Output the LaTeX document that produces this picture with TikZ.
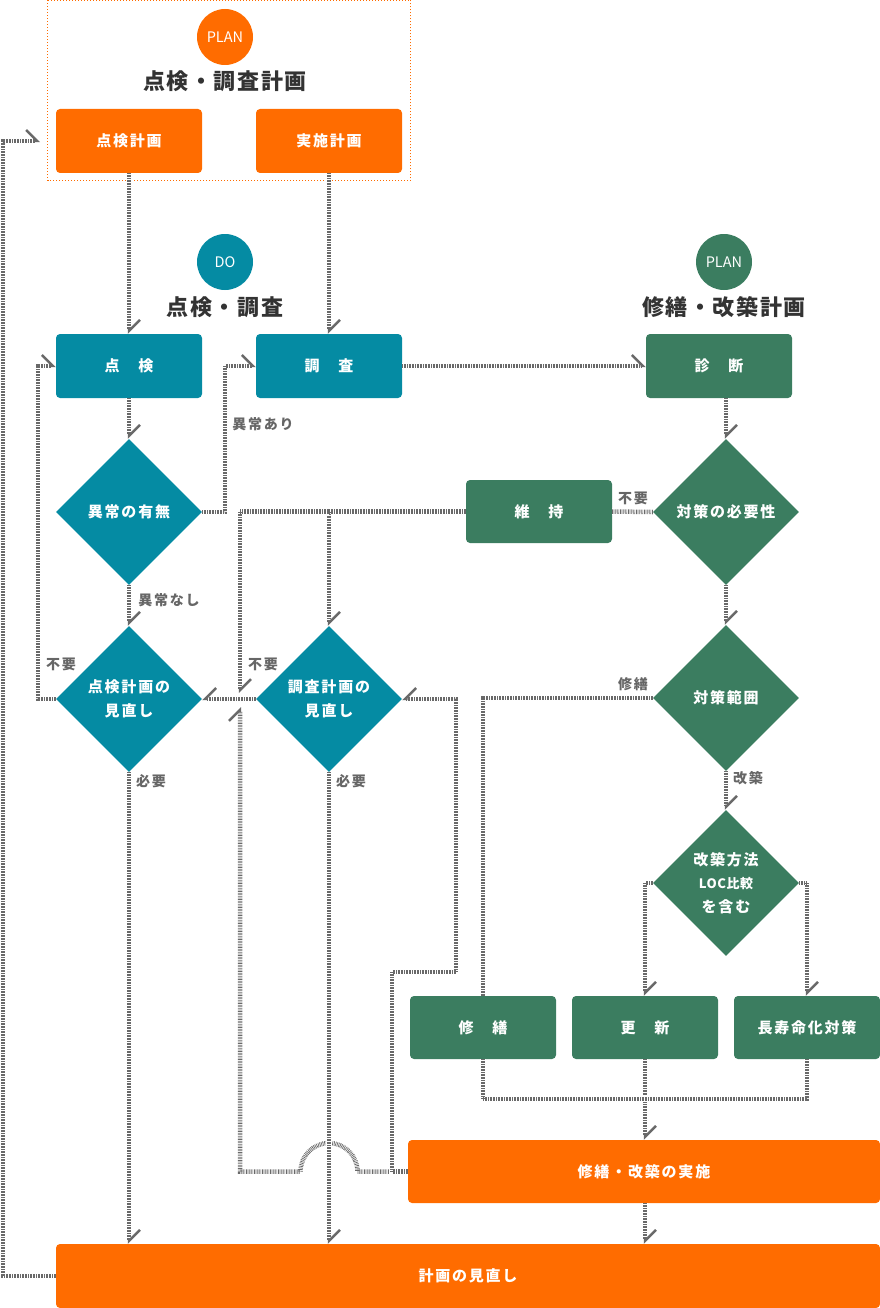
\documentclass[tikz,border=0pt]{standalone}
\usepackage{fontspec}
\setmainfont{Noto Sans CJK JP}
\newfontfamily\jp{Noto Sans CJK JP}[LetterSpace=12]
\newfontfamily\jph{Noto Sans CJK JP}[LetterSpace=7]
\newfontfamily\jpn{Noto Sans CJK JP}[LetterSpace=4]
\usepackage{tikz}
\usetikzlibrary{arrows.meta,shapes.geometric,calc}
\definecolor{orangeplan}{RGB}{255,108,0}
\definecolor{tealdo}{RGB}{5,139,163}
\definecolor{greenplan}{RGB}{59,125,96}
\definecolor{headgray}{RGB}{51,51,51}
\definecolor{taggray}{RGB}{102,102,102}
\definecolor{hatch}{RGB}{105,105,105}
\tikzstyle{box}     =[rectangle, rounded corners=4pt, minimum width=146pt,
                      minimum height=64pt, inner sep=0pt, text=white,
                      font=\jp\bfseries\fontsize{15}{18}\selectfont]
\tikzstyle{decision}=[diamond, aspect=1, minimum width=146pt,
                      minimum height=146pt, inner sep=0pt, text=white,
                      align=center, font=\jp\bfseries\fontsize{15}{24}\selectfont]
\tikzstyle{badge}   =[circle, minimum size=56pt, inner sep=0pt, text=white,
                      font=\fontsize{14.5}{16}\selectfont]
\tikzstyle{heading} =[text=headgray, inner sep=0pt,
                      font=\jph\bfseries\fontsize{22}{26}\selectfont]
\tikzstyle{tag}     =[text=taggray, inner sep=0pt,
                      font=\jp\bfseries\fontsize{14}{16}\selectfont]
\tikzstyle{link}    =[draw=hatch, line width=4.5pt, dash pattern=on 0.7pt off 0.9pt,
                      preaction={draw=white, line width=6.5pt, solid}]
\tikzstyle{dn}      =[-{Straight Barb[harpoon, length=11pt, width=22pt, line width=2.4pt]}]
\tikzstyle{lt}      =[-{Straight Barb[harpoon, swap, length=11pt, width=22pt, line width=2.4pt]}]

\begin{document}
\begin{tikzpicture}[x=1pt,y=-1pt]
    \useasboundingbox (0,0) rectangle (880,1308);

    % PLAN: inspection and survey planning
    \draw [orangeplan, line width=1pt, dash pattern=on 1pt off 2pt] (47.5,0.5) rectangle (410.5,181);
    \node (p1) [badge, fill=orangeplan] at (225,37) {PLAN};
    \node (t1) [heading] at (225,81) {点検・調査計画};
    \node (a1) [box, fill=orangeplan] at (129,141) {点検計画};
    \node (a2) [box, fill=orangeplan] at (329,141) {実施計画};

    % DO: inspection and survey
    \node (p2) [badge, fill=tealdo] at (225,262) {DO};
    \node (t2) [heading] at (225,307) {点検・調査};
    \node (b1) [box, fill=tealdo] at (129,366) {点　検};
    \node (b2) [box, fill=tealdo] at (329,366) {調　査};
    \node (d1) [decision, fill=tealdo] at (129,512) {異常の有無};
    \node (d2) [decision, fill=tealdo] at (129,699) {点検計画の\\見直し};
    \node (d3) [decision, fill=tealdo] at (329,699) {調査計画の\\見直し};

    % PLAN: repair and renewal planning
    \node (p3) [badge, fill=greenplan] at (724,262) {PLAN};
    \node (t3) [heading] at (724,307) {修繕・改築計画};
    \node (c1) [box, fill=greenplan] at (719,366) {診　断};
    \node (c2) [box, fill=greenplan, minimum height=63pt] at (539,511.5) {維　持};
    \node (d4) [decision, fill=greenplan] at (726,512) {対策の必要性};
    \node (d5) [decision, fill=greenplan] at (726,698) {対策範囲};
    \node (d6) [decision, fill=greenplan] at (726,883)
        {\fontsize{15}{21}\selectfont 改築方法\\[-1pt]
         \jpn\fontsize{13}{18}\selectfont LOC比較\\を含む};
    \node (e1) [box, fill=greenplan, minimum height=63pt] at (483,1027.5) {修　繕};
    \node (e2) [box, fill=greenplan, minimum height=63pt] at (645,1027.5) {更　新};
    \node (e3) [box, fill=greenplan, minimum height=63pt] at (807,1027.5) {長寿命化対策};
    \node (f1) [box, fill=orangeplan, minimum width=472pt, minimum height=63pt] at (644,1171.5) {修繕・改築の実施};
    \node (f2) [box, fill=orangeplan, minimum width=824pt] at (468,1276) {計画の見直し};

    % branch labels
    \node (l1) [tag] at (263,424) {異常あり};
    \node (l2) [tag] at (169,600) {異常なし};
    \node (l3) [tag] at (61,664) {不要};
    \node (l4) [tag] at (263,664) {不要};
    \node (l5) [tag] at (151,781) {必要};
    \node (l6) [tag] at (351,781) {必要};
    \node (l7) [tag] at (633,498) {不要};
    \node (l8) [tag] at (633,684) {修繕};
    \node (l9) [tag] at (748,778) {改築};

    \coordinate (k1) at (225,512);
    \coordinate (k2) at (38,699);
    \coordinate (k4) at (240,693);
    \coordinate (k5) at (240,707);
    \coordinate (k6) at (392,972);
    \coordinate (k7) at (456,972);
    \coordinate (k8) at (3,1276);
    \coordinate (k9) at (40,141);
    \coordinate (h1) at ($(d3.south)+(28.5,0)$);
    \coordinate (n1) at (807,1099);

    % loop back over the crossing
    \draw [link,dn] (f1.west -| k6) -- (f1.west -| h1)
        arc[start angle=0, end angle=-180, radius=28.5] -| (k5);

    \foreach \i/\j in {a1/b1,a2/b2,b1/d1,d1/d2,d4/d5,d5/d6}
    \draw [link,dn] (\i.south) -- (\j.north);
    \draw [link,dn] (c1.south -| d4.north) -- (d4.north);
    \draw [link,dn] (d2.south) -- (d2.south |- f2.north);
    \draw [link,dn] (d3.south) -- (d3.south |- f2.north);
    \draw [link,dn] (e2.south) -- (e2.south |- f1.north);
    \draw [link,dn] (f1.south -| e2.south) -- (f2.north -| e2.south);
    \draw [link,dn] (d6.west) -| (e2.north);
    \draw [link,dn] (d6.east) -| (e3.north);
    \draw [link,dn] (c2.west) -| (d3.north);
    \draw [link,dn] (c2.west -| d3.north) -| (k4);

    \draw [link,dn] (b2.east) -- (c1.west);
    \draw [link,dn] (d1.east) -- (k1) |- (b2.west);
    \draw [link,dn] (d2.west) -- (k2) |- (b1.west);
    \draw [link,dn] (f2.west) -- (k8) |- (k9);

    \draw [link,lt] (d3.west) -- (d2.east);
    \draw [link,lt] (f1.west) -| (k6) -- (k7) |- (d3.east);

    \draw [link] (d4.west) -- (c2.east);
    \draw [link] (d5.west) -| (e1.north);
    \draw [link] (e1.south) |- (n1) -- (e3.south);
\end{tikzpicture}
\end{document}
